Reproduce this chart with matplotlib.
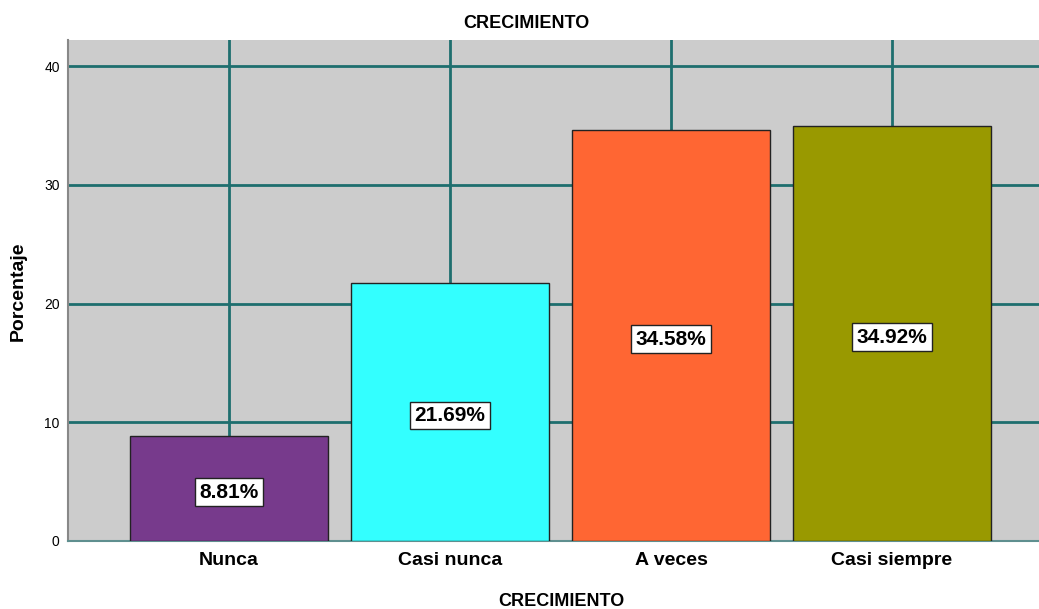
import matplotlib.pyplot as plt

categories = ['Nunca', 'Casi nunca', 'A veces', 'Casi siempre']
porcentajes = [8.81, 21.69, 34.58, 34.92]
colores = ['#773A8C', '#33FFFF', '#FF6633', '#999900']
yticks = [0, 10, 20, 30, 40]

plt.rcParams['font.family'] = ['Liberation Sans', 'DejaVu Sans']

fig = plt.figure(figsize=(10.39, 6.09), dpi=100)
ax = fig.add_axes([68 / 1039, 1 - 541 / 609, 1 - 68 / 1039, (541 - 40) / 609])
ax.set_facecolor('#CCCCCC')

x = list(range(len(categories)))
ax.bar(x, porcentajes, width=0.896, color=colores, edgecolor='#222222', linewidth=1, zorder=3)

# etiquetas de porcentaje dentro de las barras
for xi, v in zip(x, porcentajes):
    ax.annotate(f'{v:.2f}%', (xi, v / 2), xytext=(0, -2.5), textcoords='offset points',
                ha='center', va='center', fontsize=15, fontweight='bold', zorder=4,
                bbox=dict(boxstyle='square,pad=0.2', facecolor='white', edgecolor='#222222', linewidth=1))

ax.set_xlim(-0.7285, 3.665)
ax.set_ylim(0, 42.19)
ax.set_xticks(x)
ax.set_xticklabels(categories, fontsize=14, fontweight='bold')
ax.set_yticks(yticks)
ax.set_yticklabels([str(t) for t in yticks], fontsize=10)
ax.tick_params(length=0, axis='y', pad=6)
ax.tick_params(length=0, axis='x', pad=8)
ax.grid(True, color='#1E6E6E', linewidth=2, zorder=1)
ax.set_axisbelow(True)

for s in ['top', 'right']:
    ax.spines[s].set_visible(False)
ax.spines['left'].set_color('#888888')
ax.spines['left'].set_linewidth(1.5)
ax.spines['bottom'].set_color('#5F8F8F')
ax.spines['bottom'].set_linewidth(1.5)

fig.text(526 / 1039, 1 - 24 / 609, 'CRECIMIENTO', ha='center', va='center', fontsize=13, fontweight='bold')
fig.text(561 / 1039, 1 - 601 / 609, 'CRECIMIENTO', ha='center', va='center', fontsize=13, fontweight='bold')
fig.text(18 / 1039, 1 - 291 / 609, 'Porcentaje', ha='center', va='center', rotation=90,
         fontsize=14, fontweight='bold')

fig.savefig('out.png', dpi=100)
